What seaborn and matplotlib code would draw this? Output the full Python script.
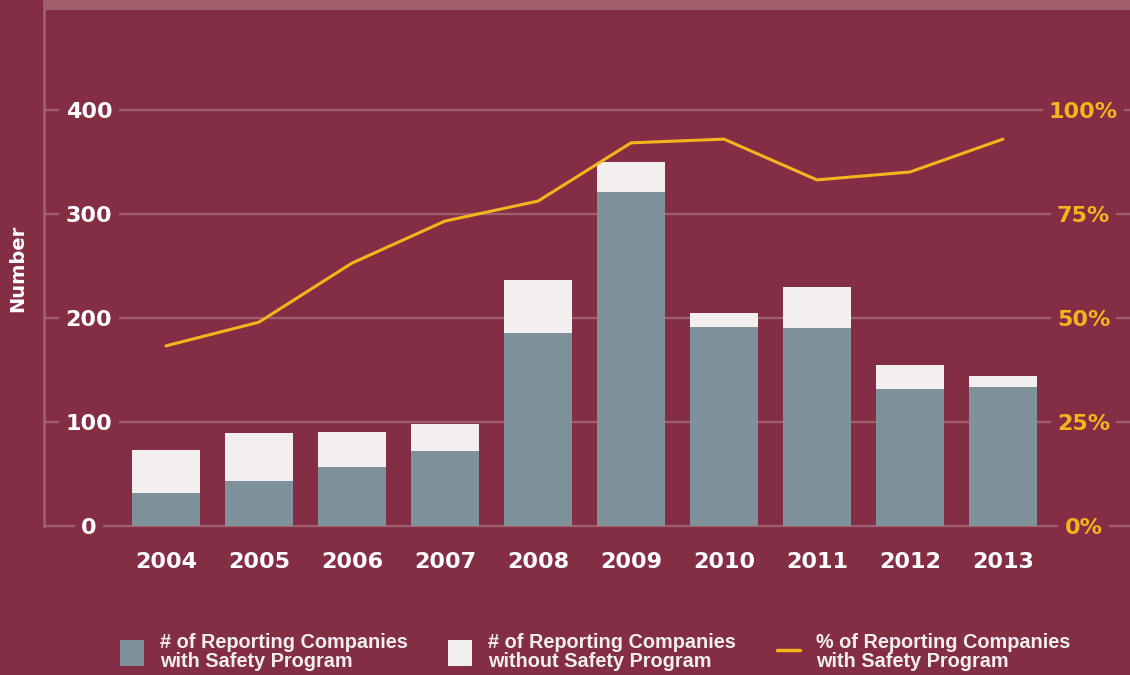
import numpy as np
import pandas as pd
import matplotlib
matplotlib.use('Agg')
import matplotlib.pyplot as plt
import matplotlib.patches as mpatches
import seaborn as sns

# data
years = ['2004', '2005', '2006', '2007', '2008', '2009', '2010', '2011', '2012', '2013']
with_program = [32, 43, 57, 72, 186, 321, 191, 190, 132, 134]
without_program = [41, 46, 33, 26, 51, 29, 14, 40, 23, 10]
pct_with_program = [43.3, 49, 63.2, 73.3, 78.1, 92.1, 93, 83.2, 85.1, 93]
left_ticks = [0, 100, 200, 300, 400]
right_ticks = [0, 25, 50, 75, 100]
right_labels = ['0%', '25%', '50%', '75%', '100%']
legend_labels = ['# of Reporting Companies\nwith Safety Program',
                 '# of Reporting Companies\nwithout Safety Program',
                 '% of Reporting Companies\nwith Safety Program']

BG = '#842e46'
GRID = '#a0606a'
C_WITH = '#7f929c'
C_WITHOUT = '#f3efee'
GOLD = '#f2b51c'

sns.set_style('white')
plt.rcParams['font.family'] = ['DejaVu Sans']

df = pd.DataFrame({'year': years, 'with': with_program, 'without': without_program,
                   'pct': pct_with_program})
df['total'] = df['with'] + df['without']

W, H = 1130, 675
fig = plt.figure(figsize=(W / 100, H / 100), dpi=100, facecolor=BG)
# axes box in pixels: left 44, right 1130, top 0, bottom 530
ax = fig.add_axes([44 / W, (H - 530) / H, (W - 44) / W, 530 / H])
ax.set_facecolor(BG)

sns.barplot(data=df, x='year', y='total', color=C_WITHOUT, saturation=1,
            width=0.73, linewidth=0, ax=ax, order=years)
sns.barplot(data=df, x='year', y='with', color=C_WITH, saturation=1,
            width=0.73, linewidth=0, ax=ax, order=years)

px = 1.04  # pixels per unit on the left axis
ymin, ymax = -4 / px, 526 / px
ax.set_ylim(ymin, ymax)
ax.set_xlim(-(166 - 44) / 93, 9 + (1130 - 1003) / 93)

ax.set_axisbelow(True)
ax.set_yticks(left_ticks)
ax.set_yticklabels([str(t) for t in left_ticks])
ax.yaxis.grid(True, color=GRID, linewidth=1.6)
ax.xaxis.grid(False)
ax.tick_params(axis='y', length=0, pad=-32.4, labelsize=16, labelcolor='white')
ax.tick_params(axis='x', length=0, pad=16, labelsize=16, labelcolor='white')
for lab in ax.get_yticklabels():
    lab.set_horizontalalignment('center')
    lab.set_fontweight('bold')
    lab.set_bbox(dict(facecolor=BG, edgecolor='none', pad=4.5))
for lab in ax.get_xticklabels():
    lab.set_fontweight('bold')
ax.set_xlabel('')
ax.set_ylabel('Number', color='white', fontsize=14, fontweight='bold')
ax.yaxis.set_label_coords(-17 / (W - 44), (530 - 268) / 530)

for s in ['top', 'right', 'bottom']:
    ax.spines[s].set_visible(False)
ax.spines['left'].set_color(GRID)
ax.spines['left'].set_linewidth(2)
ax.spines['left'].set_bounds(0, ymax)

# percentage line on the right axis
ax2 = ax.twinx()
sns.lineplot(x=np.arange(len(years)), y=df['pct'], color=GOLD, linewidth=2.2, ax=ax2)
ax2.set_ylim(ymin / 4, ymax / 4)
ax2.set_yticks(right_ticks)
ax2.set_yticklabels(right_labels)
ax2.set_ylabel('')
ax2.grid(False)
ax2.tick_params(axis='y', length=0, pad=-33.5, labelsize=16, labelcolor=GOLD)
for lab in ax2.get_yticklabels():
    lab.set_horizontalalignment('center')
    lab.set_fontweight('bold')
    lab.set_bbox(dict(facecolor=BG, edgecolor='none', pad=4.5))
for s in ax2.spines.values():
    s.set_visible(False)

# light band across the top
fig.patches.append(mpatches.Rectangle((46 / W, 1 - 10 / H), 1, 10 / H,
                                      transform=fig.transFigure, facecolor=GRID,
                                      edgecolor='none', zorder=0))

handles = [mpatches.Patch(facecolor=C_WITH, edgecolor='none'),
           mpatches.Patch(facecolor=C_WITHOUT, edgecolor='none'),
           plt.Line2D([], [], color=GOLD, linewidth=2.5)]
leg = fig.legend(handles, legend_labels, ncol=3, loc='lower left',
                 bbox_to_anchor=(106 / W, -0.015), frameon=False,
                 prop={'family': 'Liberation Sans', 'weight': 'bold', 'size': 14.3},
                 handlelength=1.2, handleheight=1.6, handletextpad=0.8,
                 columnspacing=2.05, labelspacing=0.2, borderaxespad=0.3)
for t in leg.get_texts():
    t.set_color(C_WITHOUT)
    t.set_linespacing(1.0)

fig.savefig('out.png', dpi=100, facecolor=BG)
